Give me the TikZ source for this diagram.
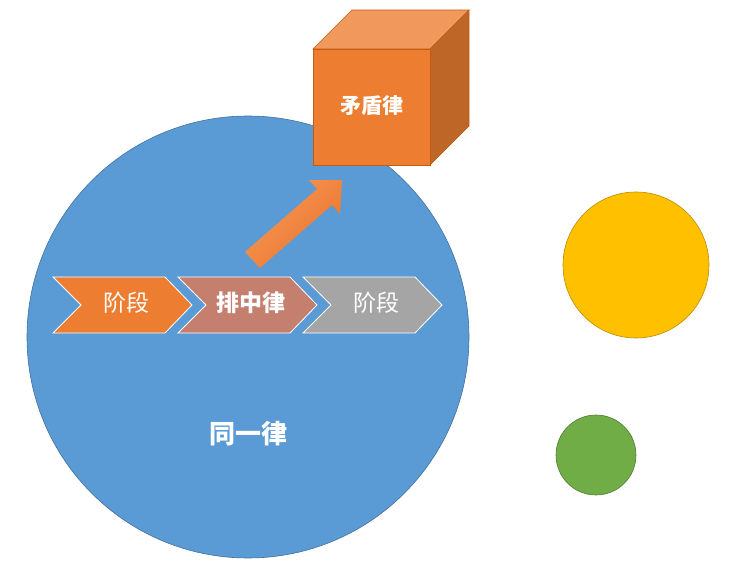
\documentclass[tikz,border=0pt]{standalone}
\usepackage{fontspec}
\setmainfont{Noto Sans CJK SC}
\usepackage{tikz}
\usetikzlibrary{calc}
\definecolor{bigblue}{HTML}{5B9BD5}
\definecolor{blueedge}{HTML}{41719C}
\definecolor{orangeA}{HTML}{ED7D31}
\definecolor{orangetop}{HTML}{F1995D}
\definecolor{orangeside}{HTML}{BE6528}
\definecolor{orangeedge}{HTML}{C55A11}
\definecolor{arrowlight}{HTML}{F4975A}
\definecolor{arrowdark}{HTML}{EC7528}
\definecolor{chevbrown}{HTML}{C47F6F}
\definecolor{chevgray}{HTML}{A5A5A5}
\definecolor{sunyellow}{HTML}{FFC000}
\definecolor{yellowedge}{HTML}{BC8C00}
\definecolor{leafgreen}{HTML}{70AD47}
\definecolor{greenedge}{HTML}{507E32}

\begin{document}
\begin{tikzpicture}[x=1pt,y=-1pt,
  lbl/.style={text=white,font=\fontsize{23}{23}\selectfont},
  chev/.style={draw=white,line width=0.8pt},
  face/.style={draw=orangeedge,line width=0.6pt}]
  \useasboundingbox (0,0) rectangle (740,570);
  % big circle
  \draw[fill=bigblue,draw=blueedge,line width=0.6pt] (248,337) circle[radius=221];
  \node[lbl,font=\bfseries\fontsize{26}{26}\selectfont] (same) at (248,434) {同一律};
  % chevrons
  \foreach \xl/\col/\txt/\nm in {53/orangeA/阶段/ca,178/chevbrown/\textbf{排中律}/cb,303/chevgray/阶段/cc}{
    \draw[chev,fill=\col] (\xl,277) -- ++(112,0) -- ++(27,28) -- ++(-27,28)
      -- ++(-112,0) -- ++(28,-28) -- cycle;
    \node[lbl] (\nm) at (\xl+73,303) {\txt};
  }
  % arrow
  \shade[top color=arrowlight,bottom color=arrowdark,shading angle=45]
    (245,252) -- (317,189) -- (309,180) -- (342,180) -- (340,214) -- (332,205) -- (260,268) -- cycle;
  % cube
  \draw[face,fill=orangetop] (313,49) -- (352,10) -- (469,10) -- (430,49) -- cycle;
  \draw[face,fill=orangeside] (430,49) -- (469,10) -- (469,126) -- (430,165) -- cycle;
  \draw[face,fill=orangeA] (313,49) rectangle (430,165);
  \node[lbl,font=\bfseries\fontsize{21}{21}\selectfont] (contra) at (371.5,106) {矛盾律};
  % small circles
  \draw[fill=sunyellow,draw=yellowedge,line width=0.6pt] (636,265) circle[radius=73];
  \draw[fill=leafgreen,draw=greenedge,line width=0.6pt] (596,455) circle[radius=40];
\end{tikzpicture}
\end{document}
